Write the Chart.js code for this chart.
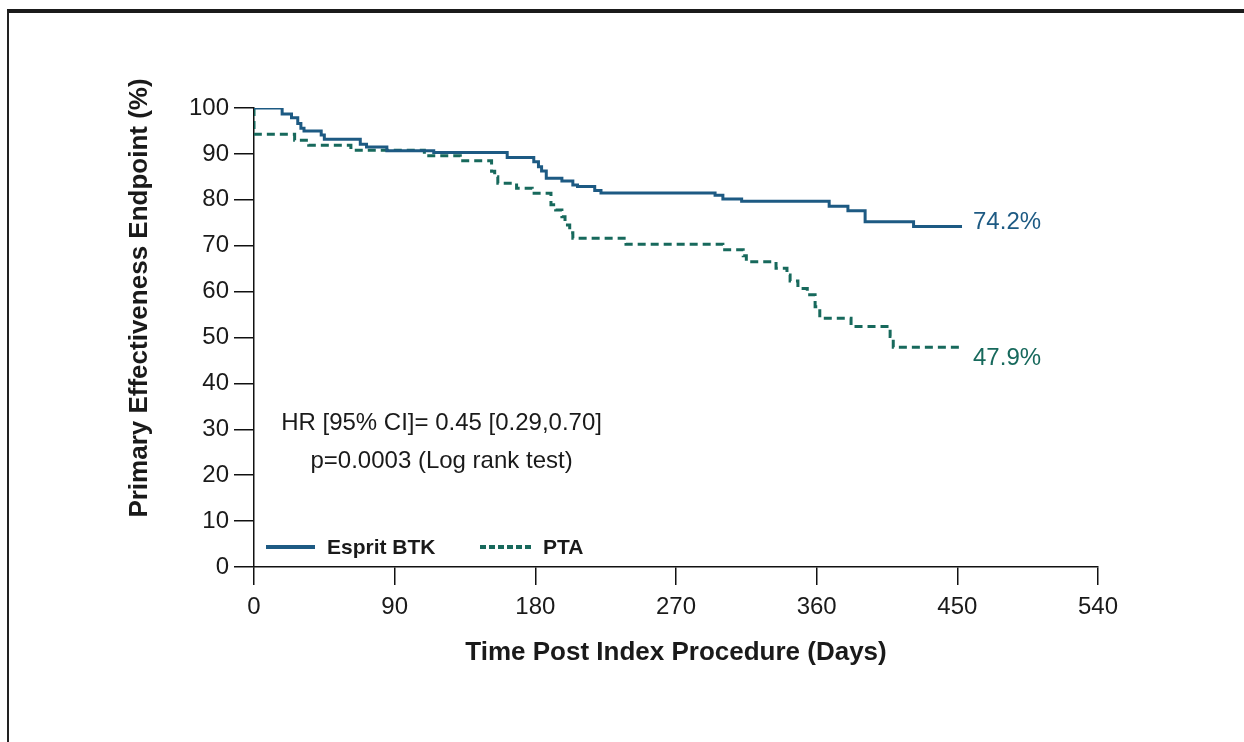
<!DOCTYPE html>
<html>
<head>
<meta charset="utf-8">
<script src="https://cdn.jsdelivr.net/npm/chart.js@4.4.1/dist/chart.umd.min.js"></script>
<style>
  html, body { margin: 0; padding: 0; background: #fff; }
  #wrap { position: relative; width: 1244px; height: 742px; overflow: hidden; }
  #frame {
    position: absolute; left: 7px; top: 9px; width: 1260px; height: 760px;
    border-top: 4px solid #1b1b1b; border-left: 2px solid #222;
  }
  #kmChart { position: absolute; left: 0; top: 0; }
</style>
</head>
<body>
<div id="wrap">
  <div id="frame"></div>
  <canvas id="kmChart" width="1244" height="742"></canvas>
</div>
<script>
// ============ 1. DỮ LIỆU ==============
const xTicks = [0, 90, 180, 270, 360, 450, 540];
const yTicks = [0, 10, 20, 30, 40, 50, 60, 70, 80, 90, 100];

// Esprit BTK (Kaplan-Meier, step tại mỗi ngày)
const btkDays = [0, 18, 24, 28, 30, 32, 43, 45, 68, 72, 85, 115, 162, 179, 182, 184, 187, 197, 204, 207, 218, 222, 295, 300, 312, 368, 380, 391, 422, 453];
const btkSurv = [100, 98.7, 97.9, 96.6, 95.6, 95.0, 94.1, 93.2, 92.1, 91.5, 90.7, 90.3, 89.2, 88.3, 87.2, 86.3, 84.7, 84.1, 83.2, 82.9, 82.0, 81.5, 81.0, 80.2, 79.7, 78.6, 77.6, 75.2, 74.2, 74.2];

// PTA
const ptaDays = [0, 0, 26, 35, 62, 109, 132, 152, 154, 156, 168, 178, 190, 193, 197, 199, 202, 204, 238, 300, 313, 315, 334, 341, 343, 348, 354, 359, 362, 382, 407, 409, 453];
const ptaSurv = [100, 94.3, 93.0, 91.9, 90.8, 89.6, 88.5, 86.2, 85.0, 83.6, 82.5, 81.4, 78.9, 77.8, 76.3, 74.5, 72.8, 71.6, 70.3, 69.1, 67.8, 66.5, 65.1, 63.6, 62.3, 60.7, 59.3, 56.7, 54.2, 52.4, 50.2, 47.9, 47.9];

const seriesNames = ["Esprit BTK", "PTA"];
const endLabels = ["74.2%", "47.9%"];
const endLabelY = [75.0, 45.5]; // vị trí chữ (theo trục y)
const statLines = ["HR [95% CI]= 0.45 [0.29,0.70]", "p=0.0003 (Log rank test)"];
const statPos = { x: 120, y: [31.2, 23.1] };
const yTitle = "Primary Effectiveness Endpoint (%)";

const BLUE = "#1d5a83";
const GREEN = "#17695c";
const FONT = "'Liberation Sans', Arial, sans-serif";

const toPoints = (xs, ys) => xs.map((x, i) => ({ x: x, y: ys[i] }));

// ============ 2. PLUGIN VẼ CHỮ / CHÚ THÍCH ==============
const kmText = {
  id: "kmText",
  afterDraw(chart) {
    const ctx = chart.ctx;
    const sx = chart.scales.x, sy = chart.scales.y;
    ctx.save();

    // tiêu đề trục y (lệch lên trên như bản gốc)
    ctx.save();
    ctx.translate(140, 298);
    ctx.rotate(-Math.PI / 2);
    ctx.fillStyle = "#1a1a1a";
    ctx.font = "bold 26px " + FONT;
    ctx.textAlign = "center";
    ctx.textBaseline = "middle";
    ctx.fillText(yTitle, 0, 0);
    ctx.restore();

    // chữ HR / p-value
    ctx.fillStyle = "#1a1a1a";
    ctx.font = "24px " + FONT;
    ctx.textAlign = "center";
    ctx.textBaseline = "middle";
    statLines.forEach((t, i) => {
      ctx.fillText(t, sx.getPixelForValue(statPos.x), sy.getPixelForValue(statPos.y[i]));
    });

    // nhãn cuối đường
    ctx.textAlign = "left";
    ctx.fillStyle = BLUE;
    ctx.fillText(endLabels[0], sx.getPixelForValue(btkDays[btkDays.length - 1]) + 11, sy.getPixelForValue(endLabelY[0]));
    ctx.fillStyle = GREEN;
    ctx.fillText(endLabels[1], sx.getPixelForValue(ptaDays[ptaDays.length - 1]) + 11, sy.getPixelForValue(endLabelY[1]));

    // chú thích (legend) trong vùng biểu đồ
    const ly = 547;
    ctx.lineWidth = 4;
    ctx.strokeStyle = BLUE;
    ctx.beginPath(); ctx.moveTo(266, ly); ctx.lineTo(315, ly); ctx.stroke();
    ctx.strokeStyle = GREEN;
    ctx.setLineDash([6, 3]);
    ctx.beginPath(); ctx.moveTo(480, ly); ctx.lineTo(534, ly); ctx.stroke();
    ctx.setLineDash([]);
    ctx.fillStyle = "#1a1a1a";
    ctx.font = "bold 21px " + FONT;
    ctx.fillText(seriesNames[0], 327, ly + 1);
    ctx.fillText(seriesNames[1], 543, ly + 1);

    ctx.restore();
  }
};

// ============ 3. BIỂU ĐỒ ==============
const ctx = document.getElementById("kmChart").getContext("2d");
new Chart(ctx, {
  type: "line",
  data: {
    datasets: [
      {
        label: seriesNames[0],
        data: toPoints(btkDays, btkSurv),
        borderColor: BLUE,
        borderWidth: 3,
        stepped: true,
        pointRadius: 0,
        fill: false
      },
      {
        label: seriesNames[1],
        data: toPoints(ptaDays, ptaSurv),
        borderColor: GREEN,
        borderWidth: 3,
        borderDash: [8, 5],
        stepped: true,
        pointRadius: 0,
        fill: false
      }
    ]
  },
  options: {
    responsive: false,
    animation: false,
    devicePixelRatio: 1,
    layout: { padding: { left: 120, right: 146, top: 108, bottom: 74 } },
    plugins: {
      legend: { display: false },
      tooltip: { enabled: false }
    },
    scales: {
      x: {
        type: "linear",
        min: xTicks[0],
        max: xTicks[xTicks.length - 1],
        afterBuildTicks: (scale) => { scale.ticks = xTicks.map(v => ({ value: v })); },
        afterFit: (scale) => { scale.height = 101; },
        grid: { drawOnChartArea: false, tickLength: 18, color: "#111", lineWidth: 1.5 },
        border: { display: true, color: "#111", width: 1.5 },
        ticks: { color: "#1a1a1a", font: { family: FONT, size: 24 }, padding: 8, maxRotation: 0 },
        title: {
          display: true,
          text: "Time Post Index Procedure (Days)",
          color: "#1a1a1a",
          font: { family: FONT, size: 26, weight: "bold" },
          padding: { top: 0, bottom: 0 }
        }
      },
      y: {
        min: yTicks[0],
        max: yTicks[yTicks.length - 1],
        afterBuildTicks: (scale) => { scale.ticks = yTicks.map(v => ({ value: v })); },
        afterFit: (scale) => { scale.width = 134; },
        grid: { drawOnChartArea: false, tickLength: 20, color: "#111", lineWidth: 1.5 },
        border: { display: true, color: "#111", width: 1.5 },
        ticks: { color: "#1a1a1a", font: { family: FONT, size: 24 }, padding: 5 },
        title: { display: false }
      }
    }
  },
  plugins: [kmText]
});
</script>
</body>
</html>
